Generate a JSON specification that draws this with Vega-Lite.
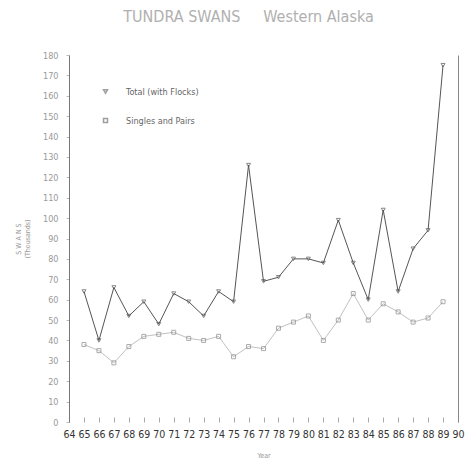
{
  "$schema": "https://vega.github.io/schema/vega-lite/v6.json",
  "autosize": "none",
  "width": 389,
  "height": 367,
  "padding": {"left": 69, "top": 55, "right": 7, "bottom": 45},
  "background": "white",
  "config": {"view": {"stroke": null}, "font": "DejaVu Sans Condensed, Liberation Sans Narrow, sans-serif"},
  "title": {
    "text": "TUNDRA SWANS\u00a0\u00a0\u00a0\u00a0\u00a0Western Alaska",
    "fontSize": 16,
    "fontWeight": "normal",
    "color": "#b0b0b0",
    "font": "DejaVu Sans Condensed, Liberation Sans Narrow, sans-serif",
    "anchor": "middle",
    "dx": -15,
    "offset": 26
  },
  "data": {
    "values": [
      {"year": 65, "series": "Total (with Flocks)", "value": 64},
      {"year": 66, "series": "Total (with Flocks)", "value": 40},
      {"year": 67, "series": "Total (with Flocks)", "value": 66},
      {"year": 68, "series": "Total (with Flocks)", "value": 52},
      {"year": 69, "series": "Total (with Flocks)", "value": 59},
      {"year": 70, "series": "Total (with Flocks)", "value": 48},
      {"year": 71, "series": "Total (with Flocks)", "value": 63},
      {"year": 72, "series": "Total (with Flocks)", "value": 59},
      {"year": 73, "series": "Total (with Flocks)", "value": 52},
      {"year": 74, "series": "Total (with Flocks)", "value": 64},
      {"year": 75, "series": "Total (with Flocks)", "value": 59},
      {"year": 76, "series": "Total (with Flocks)", "value": 126},
      {"year": 77, "series": "Total (with Flocks)", "value": 69},
      {"year": 78, "series": "Total (with Flocks)", "value": 71},
      {"year": 79, "series": "Total (with Flocks)", "value": 80},
      {"year": 80, "series": "Total (with Flocks)", "value": 80},
      {"year": 81, "series": "Total (with Flocks)", "value": 78},
      {"year": 82, "series": "Total (with Flocks)", "value": 99},
      {"year": 83, "series": "Total (with Flocks)", "value": 78},
      {"year": 84, "series": "Total (with Flocks)", "value": 60},
      {"year": 85, "series": "Total (with Flocks)", "value": 104},
      {"year": 86, "series": "Total (with Flocks)", "value": 64},
      {"year": 87, "series": "Total (with Flocks)", "value": 85},
      {"year": 88, "series": "Total (with Flocks)", "value": 94},
      {"year": 89, "series": "Total (with Flocks)", "value": 175},
      {"year": 65, "series": "Singles and Pairs", "value": 38},
      {"year": 66, "series": "Singles and Pairs", "value": 35},
      {"year": 67, "series": "Singles and Pairs", "value": 29},
      {"year": 68, "series": "Singles and Pairs", "value": 37},
      {"year": 69, "series": "Singles and Pairs", "value": 42},
      {"year": 70, "series": "Singles and Pairs", "value": 43},
      {"year": 71, "series": "Singles and Pairs", "value": 44},
      {"year": 72, "series": "Singles and Pairs", "value": 41},
      {"year": 73, "series": "Singles and Pairs", "value": 40},
      {"year": 74, "series": "Singles and Pairs", "value": 42},
      {"year": 75, "series": "Singles and Pairs", "value": 32},
      {"year": 76, "series": "Singles and Pairs", "value": 37},
      {"year": 77, "series": "Singles and Pairs", "value": 36},
      {"year": 78, "series": "Singles and Pairs", "value": 46},
      {"year": 79, "series": "Singles and Pairs", "value": 49},
      {"year": 80, "series": "Singles and Pairs", "value": 52},
      {"year": 81, "series": "Singles and Pairs", "value": 40},
      {"year": 82, "series": "Singles and Pairs", "value": 50},
      {"year": 83, "series": "Singles and Pairs", "value": 63},
      {"year": 84, "series": "Singles and Pairs", "value": 50},
      {"year": 85, "series": "Singles and Pairs", "value": 58},
      {"year": 86, "series": "Singles and Pairs", "value": 54},
      {"year": 87, "series": "Singles and Pairs", "value": 49},
      {"year": 88, "series": "Singles and Pairs", "value": 51},
      {"year": 89, "series": "Singles and Pairs", "value": 59}
    ]
  },
  "encoding": {
    "x": {
      "field": "year", "type": "quantitative",
      "scale": {"domain": [64, 90], "nice": false, "zero": false},
      "axis": {
        "title": "Year", "titleFontSize": 7, "titleColor": "#999", "titleFontWeight": "normal", "titlePadding": 12,
        "values": [64,65,66,67,68,69,70,71,72,73,74,75,76,77,78,79,80,81,82,83,84,85,86,87,88,89,90],
        "format": "d",
        "labelFontSize": 10.5, "labelColor": "#333", "labelPadding": 12, "labelOverlap": false, "labelBound": false,
        "domain": false, "grid": false, "tickSize": -5, "tickColor": "#aaa", "labelFlush": false
      }
    }
  },
  "layer": [
    {
      "transform": [{"filter": "datum.series === 'Total (with Flocks)'"}],
      "mark": {"type": "line", "strokeWidth": 1, "color": "#555555"},
      "encoding": {
        "y": {
          "field": "value", "type": "quantitative",
          "scale": {"domain": [0, 180], "nice": false},
          "axis": {
            "title": ["S W A N S", "(Thousands)"], "titleFontSize": 7, "titleColor": "#999", "titleFontWeight": "normal", "titlePadding": 12,
            "values": [0,10,20,30,40,50,60,70,80,90,100,110,120,130,140,150,160,170,180],
            "labelFontSize": 9, "labelColor": "#999", "labelPadding": 8, "labelOverlap": false,
            "domain": true, "domainColor": "#777", "grid": false, "tickSize": 3, "tickColor": "#bbb"
          }
        }
      }
    },
    {
      "transform": [{"filter": "datum.series === 'Singles and Pairs'"}],
      "mark": {"type": "line", "strokeWidth": 0.8, "color": "#b0b0b0"},
      "encoding": {
        "y": {"field": "value", "type": "quantitative", "axis": null}
      }
    },
    {
      "mark": {"type": "point", "filled": false, "size": 16, "strokeWidth": 1},
      "encoding": {
        "y": {"field": "value", "type": "quantitative", "axis": null},
        "shape": {
          "field": "series", "type": "nominal",
          "scale": {"domain": ["Total (with Flocks)", "Singles and Pairs"], "range": ["triangle-down", "square"]},
          "legend": {
            "title": null, "orient": "none", "legendX": 32, "legendY": 32,
            "labelFontSize": 9, "labelColor": "#666", "rowPadding": 18, "symbolSize": 16,
            "labelOffset": 16, "symbolStrokeColor": "#777", "symbolFillColor": "transparent"
          }
        },
        "color": {
          "condition": {"test": "datum.series === 'Total (with Flocks)'", "value": "#555555"},
          "value": "#888888"
        }
      }
    },
    {
      "mark": {"type": "rule", "strokeWidth": 0},
      "encoding": {
        "y": {
          "field": "value", "type": "quantitative",
          "axis": {"orient": "right", "labels": false, "ticks": false, "title": null, "domain": true, "domainColor": "#888", "grid": false}
        }
      }
    }
  ],
  "resolve": {"axis": {"y": "independent"}}
}
